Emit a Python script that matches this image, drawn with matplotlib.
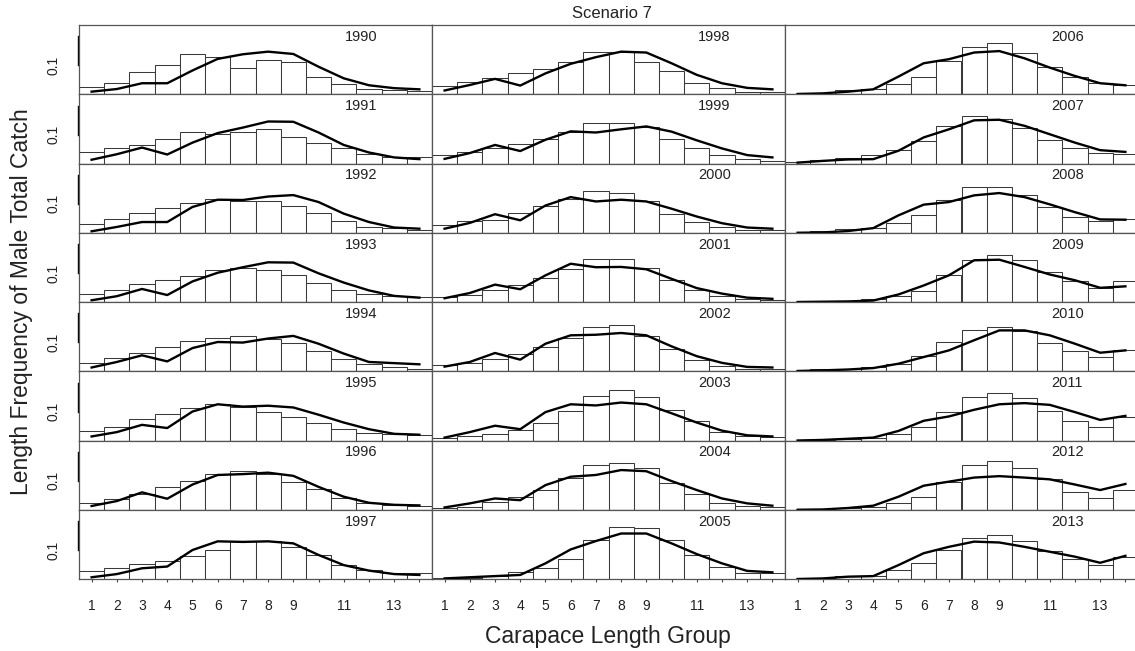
import numpy as np
import matplotlib.pyplot as plt

plt.rcParams.update({"font.family": ["Liberation Sans", "DejaVu Sans"]})

# ── Data ──────────────────────────────────────────────────────────────────────

LENGTH_GROUPS = list(range(1, 15))
TICK_LABELS = ["1", "2", "3", "4", "5", "6", "7", "8", "9", "", "11", "", "13", ""]
YEARS = list(range(1990, 2014))

# observed proportions (bars) and model fit (line) for each year
obs_1990 = [0.024, 0.038, 0.077, 0.100, 0.138, 0.128, 0.090, 0.118, 0.113, 0.059, 0.034, 0.018, 0.015, 0.010]
fit_1990 = [0.009, 0.018, 0.038, 0.038, 0.082, 0.122, 0.138, 0.147, 0.139, 0.095, 0.055, 0.031, 0.021, 0.017]
obs_1991 = [0.038, 0.055, 0.064, 0.086, 0.109, 0.103, 0.107, 0.118, 0.092, 0.070, 0.053, 0.034, 0.023, 0.024]
fit_1991 = [0.013, 0.032, 0.055, 0.031, 0.072, 0.105, 0.124, 0.145, 0.144, 0.107, 0.064, 0.038, 0.021, 0.015]
obs_1992 = [0.029, 0.046, 0.067, 0.084, 0.101, 0.117, 0.111, 0.109, 0.092, 0.067, 0.039, 0.020, 0.016, 0.009]
fit_1992 = [0.005, 0.020, 0.037, 0.037, 0.089, 0.114, 0.113, 0.125, 0.130, 0.106, 0.066, 0.037, 0.018, 0.014]
obs_1993 = [0.029, 0.040, 0.063, 0.075, 0.090, 0.109, 0.117, 0.109, 0.092, 0.067, 0.040, 0.026, 0.020, 0.018]
fit_1993 = [0.006, 0.020, 0.045, 0.024, 0.071, 0.101, 0.120, 0.137, 0.136, 0.099, 0.067, 0.040, 0.021, 0.015]
obs_1994 = [0.030, 0.047, 0.064, 0.084, 0.103, 0.115, 0.122, 0.113, 0.098, 0.069, 0.044, 0.024, 0.013, 0.009]
fit_1994 = [0.013, 0.032, 0.055, 0.034, 0.080, 0.101, 0.099, 0.113, 0.122, 0.095, 0.061, 0.032, 0.028, 0.024]
obs_1995 = [0.032, 0.048, 0.074, 0.093, 0.113, 0.126, 0.115, 0.098, 0.080, 0.061, 0.040, 0.026, 0.021, 0.018]
fit_1995 = [0.014, 0.029, 0.054, 0.043, 0.100, 0.125, 0.117, 0.120, 0.114, 0.089, 0.062, 0.039, 0.023, 0.020]
obs_1996 = [0.025, 0.038, 0.056, 0.077, 0.099, 0.125, 0.134, 0.125, 0.097, 0.070, 0.039, 0.024, 0.016, 0.013]
fit_1996 = [0.013, 0.030, 0.060, 0.038, 0.087, 0.120, 0.123, 0.128, 0.117, 0.079, 0.045, 0.024, 0.017, 0.015]
obs_1997 = [0.028, 0.037, 0.051, 0.062, 0.080, 0.100, 0.132, 0.132, 0.111, 0.082, 0.048, 0.031, 0.020, 0.020]
fit_1997 = [0.006, 0.017, 0.037, 0.043, 0.100, 0.130, 0.128, 0.130, 0.123, 0.083, 0.048, 0.029, 0.017, 0.014]

obs_1998 = [0.030, 0.044, 0.055, 0.072, 0.086, 0.110, 0.147, 0.145, 0.110, 0.080, 0.039, 0.021, 0.009, 0.007]
fit_1998 = [0.013, 0.032, 0.053, 0.030, 0.072, 0.105, 0.128, 0.147, 0.144, 0.107, 0.067, 0.038, 0.022, 0.017]
obs_1999 = [0.029, 0.041, 0.055, 0.066, 0.086, 0.109, 0.139, 0.141, 0.126, 0.086, 0.055, 0.028, 0.015, 0.010]
fit_1999 = [0.016, 0.036, 0.064, 0.043, 0.082, 0.111, 0.107, 0.118, 0.128, 0.110, 0.080, 0.052, 0.029, 0.021]
obs_2000 = [0.028, 0.039, 0.045, 0.069, 0.091, 0.115, 0.144, 0.137, 0.108, 0.066, 0.037, 0.020, 0.009, 0.008]
fit_2000 = [0.014, 0.034, 0.064, 0.043, 0.094, 0.123, 0.108, 0.114, 0.108, 0.083, 0.056, 0.033, 0.018, 0.014]
obs_2001 = [0.018, 0.025, 0.040, 0.057, 0.083, 0.113, 0.149, 0.147, 0.117, 0.075, 0.040, 0.020, 0.011, 0.008]
fit_2001 = [0.013, 0.031, 0.060, 0.044, 0.092, 0.132, 0.120, 0.121, 0.113, 0.080, 0.048, 0.029, 0.015, 0.011]
obs_2002 = [0.021, 0.030, 0.044, 0.061, 0.084, 0.115, 0.151, 0.159, 0.121, 0.076, 0.038, 0.018, 0.009, 0.007]
fit_2002 = [0.016, 0.032, 0.063, 0.040, 0.095, 0.124, 0.126, 0.132, 0.124, 0.086, 0.052, 0.029, 0.015, 0.013]
obs_2003 = [0.010, 0.014, 0.022, 0.037, 0.062, 0.102, 0.155, 0.175, 0.149, 0.106, 0.066, 0.031, 0.016, 0.011]
fit_2003 = [0.010, 0.029, 0.051, 0.039, 0.098, 0.125, 0.121, 0.131, 0.125, 0.094, 0.062, 0.034, 0.018, 0.014]
obs_2004 = [0.007, 0.010, 0.028, 0.045, 0.068, 0.108, 0.156, 0.163, 0.143, 0.094, 0.053, 0.024, 0.013, 0.010]
fit_2004 = [0.008, 0.022, 0.039, 0.033, 0.085, 0.114, 0.120, 0.137, 0.133, 0.099, 0.068, 0.039, 0.022, 0.014]
obs_2005 = [0.002, 0.005, 0.010, 0.025, 0.037, 0.069, 0.134, 0.180, 0.177, 0.134, 0.083, 0.040, 0.022, 0.020]
fit_2005 = [0.002, 0.006, 0.010, 0.014, 0.054, 0.102, 0.131, 0.157, 0.157, 0.123, 0.086, 0.054, 0.028, 0.023]

obs_2006 = [0.001, 0.002, 0.013, 0.018, 0.034, 0.059, 0.115, 0.162, 0.176, 0.141, 0.095, 0.061, 0.038, 0.032]
fit_2006 = [0.001, 0.003, 0.009, 0.017, 0.061, 0.107, 0.121, 0.144, 0.149, 0.124, 0.092, 0.063, 0.038, 0.031]
obs_2007 = [0.006, 0.011, 0.020, 0.031, 0.048, 0.076, 0.128, 0.164, 0.153, 0.124, 0.080, 0.055, 0.036, 0.032]
fit_2007 = [0.003, 0.009, 0.014, 0.015, 0.044, 0.090, 0.118, 0.149, 0.151, 0.130, 0.101, 0.072, 0.046, 0.040]
obs_2008 = [0.000, 0.007, 0.014, 0.017, 0.034, 0.060, 0.114, 0.157, 0.157, 0.129, 0.089, 0.054, 0.039, 0.046]
fit_2008 = [0.000, 0.001, 0.006, 0.016, 0.060, 0.097, 0.106, 0.129, 0.137, 0.123, 0.098, 0.071, 0.046, 0.045]
obs_2009 = [0.000, 0.001, 0.003, 0.009, 0.020, 0.037, 0.092, 0.146, 0.161, 0.144, 0.103, 0.072, 0.048, 0.072]
fit_2009 = [0.000, 0.001, 0.002, 0.005, 0.026, 0.057, 0.092, 0.144, 0.146, 0.121, 0.095, 0.075, 0.049, 0.054]
obs_2010 = [0.001, 0.007, 0.009, 0.013, 0.026, 0.052, 0.101, 0.144, 0.153, 0.139, 0.098, 0.070, 0.049, 0.072]
fit_2010 = [0.001, 0.003, 0.006, 0.011, 0.026, 0.049, 0.072, 0.107, 0.141, 0.141, 0.124, 0.095, 0.064, 0.072]
obs_2011 = [0.000, 0.002, 0.006, 0.008, 0.022, 0.045, 0.100, 0.149, 0.163, 0.146, 0.102, 0.068, 0.045, 0.080]
fit_2011 = [0.000, 0.002, 0.006, 0.010, 0.033, 0.068, 0.083, 0.106, 0.125, 0.129, 0.123, 0.098, 0.071, 0.085]
obs_2012 = [0.000, 0.001, 0.007, 0.010, 0.022, 0.045, 0.097, 0.154, 0.169, 0.143, 0.105, 0.062, 0.039, 0.068]
fit_2012 = [0.000, 0.001, 0.006, 0.014, 0.045, 0.083, 0.097, 0.111, 0.116, 0.111, 0.105, 0.087, 0.068, 0.089]
obs_2013 = [0.000, 0.005, 0.011, 0.011, 0.031, 0.054, 0.100, 0.143, 0.152, 0.132, 0.098, 0.068, 0.048, 0.077]
fit_2013 = [0.000, 0.002, 0.008, 0.010, 0.048, 0.089, 0.111, 0.129, 0.126, 0.111, 0.094, 0.077, 0.056, 0.080]

OBS = [obs_1990, obs_1991, obs_1992, obs_1993, obs_1994, obs_1995, obs_1996, obs_1997,
       obs_1998, obs_1999, obs_2000, obs_2001, obs_2002, obs_2003, obs_2004, obs_2005,
       obs_2006, obs_2007, obs_2008, obs_2009, obs_2010, obs_2011, obs_2012, obs_2013]
FIT = [fit_1990, fit_1991, fit_1992, fit_1993, fit_1994, fit_1995, fit_1996, fit_1997,
       fit_1998, fit_1999, fit_2000, fit_2001, fit_2002, fit_2003, fit_2004, fit_2005,
       fit_2006, fit_2007, fit_2008, fit_2009, fit_2010, fit_2011, fit_2012, fit_2013]

# ── Layout (pixels of a 1135x651 canvas) ──────────────────────────────────────

W, H = 1135, 651
N_ROWS, N_COLS = 8, 3
COL_LEFT = [79, 432, 785]
PANEL_W = 353
TOP, ROW_H = 25, 69.25
YMAX = 0.239
EDGE = "#3a3a3a"

fig = plt.figure(figsize=(W / 100, H / 100), dpi=100)

for i, year in enumerate(YEARS):
    col, row = divmod(i, N_ROWS)
    left = COL_LEFT[col] / W
    bottom = 1 - (TOP + (row + 1) * ROW_H) / H
    ax = fig.add_axes([left, bottom, PANEL_W / W, ROW_H / H])

    ax.bar(LENGTH_GROUPS, OBS[i], width=1.0, facecolor="white",
           edgecolor=EDGE, linewidth=0.75, zorder=1)
    ax.plot(LENGTH_GROUPS, FIT[i], color="black", lw=1.7, zorder=3,
            solid_joinstyle="round")

    ax.set_xlim(0.5, 14.5)
    ax.set_ylim(0, YMAX)
    for sp in ax.spines.values():
        sp.set_color("#555555")
        sp.set_linewidth(0.9)

    ax.text(11.7, 0.83, str(year), transform=ax.get_xaxis_transform(),
            ha="center", va="center", fontsize=10.5, color="#222222")

    ax.set_yticks([])
    if col == 0:
        # R-style axis segment between 0.1 and 0.2, only "0.1" labelled
        ax.plot([-0.003, -0.003], [0.1, 0.2], transform=ax.get_yaxis_transform(),
                color="black", lw=1.0, clip_on=False)
        ax.text(-0.072, 0.1, "0.1", transform=ax.get_yaxis_transform(),
                rotation=90, ha="center", va="center", fontsize=10, color="#222222")

    if row == N_ROWS - 1:
        ax.set_xticks(LENGTH_GROUPS)
        ax.set_xticklabels(TICK_LABELS, fontsize=10, color="#222222")
        ax.tick_params(axis="x", length=2.5, width=0.8, pad=12, color="#444444")
    else:
        ax.set_xticks([])

fig.text(612 / W, 1 - 14 / H, "Scenario 7", ha="center", va="center",
         fontsize=12, color="#222222")
fig.text(608 / W, 1 - 636 / H, "Carapace Length Group", ha="center", va="center",
         fontsize=16.5, color="#222222")
fig.text(22 / W, 1 - 302 / H, "Length Frequency of Male Total Catch", ha="center",
         va="center", rotation=90, fontsize=16.5, color="#222222")

fig.savefig("out.png", dpi=100)
